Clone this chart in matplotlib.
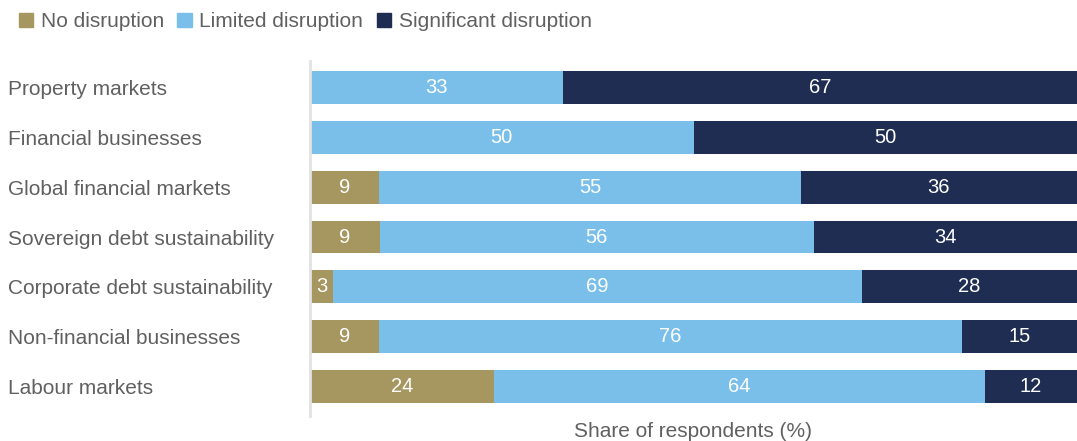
import matplotlib.pyplot as plt
import matplotlib.patches as mpatches
import numpy as np

plt.rcParams['font.family'] = ['Liberation Sans', 'DejaVu Sans']

categories = ['Property markets', 'Financial businesses', 'Global financial markets',
              'Sovereign debt sustainability', 'Corporate debt sustainability',
              'Non-financial businesses', 'Labour markets']
no_disruption = [0, 0, 9, 9, 3, 9, 24]
limited = [33, 50, 55, 56, 69, 76, 64]
significant = [67, 50, 36, 34, 28, 15, 12]
series_names = ['No disruption', 'Limited disruption', 'Significant disruption']
colors = ['#A69660', '#7ABFEA', '#1F2D52']
text_col = '#606060'

fig = plt.figure(figsize=(10.77, 4.41), dpi=100)
ax = fig.add_axes([310/1077, 25/441, 767/1077, 355/441])

data = np.array([no_disruption, limited, significant], dtype=float)
# rows rounded to 99 are stretched to fill the full bar
totals = data.sum(axis=0)
shares = data / totals * 100
y = np.arange(len(categories))
left = np.zeros(len(categories))
for k in range(3):
    ax.barh(y, shares[k], left=left, height=0.66, color=colors[k], edgecolor='none')
    for i in range(len(categories)):
        if data[k, i] > 0:
            ax.text(left[i] + shares[k, i] / 2, y[i], '%d' % data[k, i], color='white',
                    ha='center', va='center', fontsize=14.5)
    left += shares[k]

ax.set_xlim(0, 100)
ax.set_ylim(6.6, -0.54)
ax.set_yticks(y)
ax.set_yticklabels(categories, fontsize=15, color=text_col)
ax.tick_params(axis='y', length=0, pad=0)
for lab in ax.get_yticklabels():
    lab.set_horizontalalignment('left')
    lab.set_x(-302/767)
ax.set_xticks([])
for s in ['top', 'right', 'bottom']:
    ax.spines[s].set_visible(False)
ax.spines['left'].set_color('#e2e2e2')
ax.spines['left'].set_linewidth(2)
ax.set_xlabel('Share of respondents (%)', fontsize=15, color=text_col, labelpad=4)

patches = [mpatches.Patch(color=colors[k], label=series_names[k]) for k in range(3)]
fig.legend(handles=patches, loc='upper left', bbox_to_anchor=(0.0, 1.015), ncol=3,
           frameon=False, fontsize=15, labelcolor=text_col, handlelength=0.7,
           handleheight=0.7, handletextpad=0.35, columnspacing=0.65)

fig.savefig('out.png', dpi=100)
